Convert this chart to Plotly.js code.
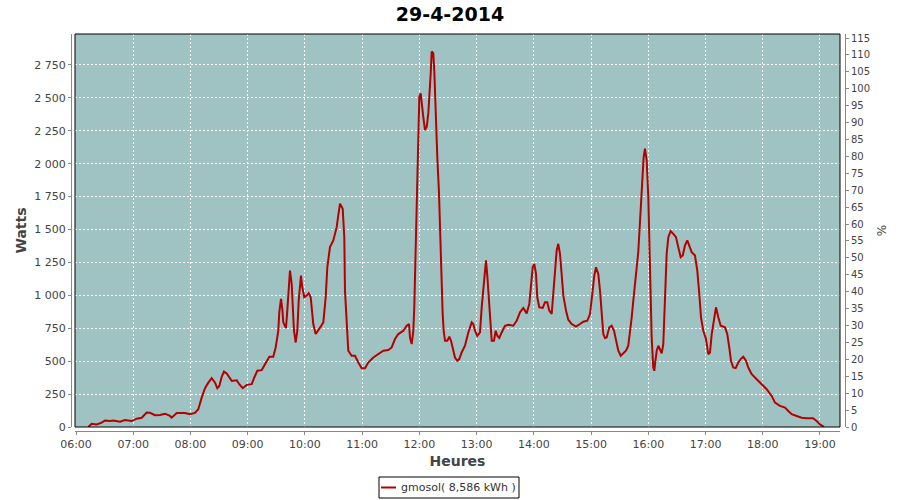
<!DOCTYPE html>
<html>
<head>
<meta charset="utf-8">
<script src="https://cdn.plot.ly/plotly-3.0.1.min.js"></script>
<style>html,body{margin:0;padding:0;background:#fff;}#chart{width:900px;height:500px;}</style>
</head>
<body>
<div id="chart"></div>
<script>
// Hours of the day (decimal) and power in Watts
const hours = [6.215,6.274,6.362,6.449,6.507,6.594,6.652,6.769,6.856,6.973,7.061,7.148,7.235,7.293,7.380,7.468,7.555,7.642,7.672,7.760,7.905,7.992,8.079,8.137,8.196,8.254,8.312,8.371,8.429,8.469,8.504,8.546,8.586,8.633,8.721,8.808,8.853,8.913,8.983,9.070,9.115,9.168,9.245,9.302,9.378,9.447,9.489,9.535,9.552,9.582,9.605,9.622,9.669,9.692,9.722,9.739,9.769,9.786,9.809,9.839,9.867,9.891,9.914,9.931,9.954,9.989,10.031,10.066,10.101,10.146,10.188,10.234,10.276,10.321,10.363,10.391,10.438,10.496,10.555,10.583,10.613,10.660,10.688,10.700,10.730,10.758,10.817,10.875,10.933,10.992,11.050,11.107,11.195,11.282,11.370,11.457,11.516,11.574,11.632,11.719,11.778,11.819,11.836,11.866,11.894,11.911,11.929,11.953,11.971,11.981,11.999,12.023,12.040,12.068,12.098,12.128,12.156,12.173,12.198,12.215,12.243,12.261,12.285,12.313,12.343,12.360,12.378,12.395,12.407,12.425,12.448,12.488,12.523,12.553,12.582,12.622,12.662,12.697,12.739,12.797,12.855,12.914,12.942,12.972,13.012,13.059,13.089,13.117,13.146,13.164,13.187,13.211,13.234,13.264,13.304,13.333,13.361,13.396,13.438,13.496,13.554,13.641,13.700,13.758,13.816,13.875,13.921,13.950,13.980,14.008,14.038,14.060,14.095,14.155,14.195,14.235,14.270,14.312,14.340,14.370,14.399,14.427,14.457,14.486,14.515,14.562,14.602,14.661,14.736,14.806,14.864,14.934,14.981,15.021,15.056,15.086,15.126,15.156,15.185,15.214,15.243,15.273,15.318,15.360,15.401,15.436,15.476,15.518,15.563,15.610,15.650,15.680,15.710,15.738,15.767,15.797,15.825,15.855,15.877,15.895,15.919,15.942,15.972,16.000,16.030,16.059,16.087,16.105,16.117,16.147,16.175,16.205,16.234,16.262,16.292,16.321,16.350,16.391,16.437,16.484,16.524,16.566,16.601,16.641,16.681,16.716,16.758,16.816,16.856,16.891,16.921,16.961,17.008,17.048,17.078,17.108,17.148,17.183,17.223,17.265,17.340,17.380,17.415,17.445,17.485,17.527,17.573,17.614,17.660,17.707,17.747,17.807,17.894,17.981,18.069,18.156,18.214,18.301,18.389,18.446,18.506,18.593,18.680,18.768,18.878,18.942,19.000,19.070];
const watts = [0,25,20,33,50,45,50,40,53,45,63,70,110,108,90,91,101,84,71,107,107,97,107,135,223,295,337,371,337,295,312,381,421,406,350,355,325,295,320,325,376,427,432,478,533,533,604,731,871,973,897,795,752,884,1087,1188,1087,935,731,642,731,960,1112,1150,1061,985,998,1015,985,782,706,731,762,795,985,1213,1366,1417,1518,1607,1696,1658,1442,1036,731,579,541,541,490,447,447,490,528,553,579,584,604,668,706,731,769,782,680,630,731,909,1213,1569,1925,2150,2509,2534,2445,2356,2255,2280,2382,2483,2687,2852,2839,2699,2306,2052,1773,1493,1265,1049,858,731,655,655,686,655,592,528,503,516,566,617,718,795,782,731,693,718,909,1061,1213,1265,1150,985,807,655,655,731,693,676,718,769,777,769,807,871,904,863,935,1087,1213,1239,1163,985,909,904,947,947,884,858,998,1150,1341,1391,1315,1160,1000,884,815,782,762,782,800,807,858,1010,1150,1213,1163,1036,833,706,676,680,757,769,731,655,579,541,558,579,617,706,833,960,1087,1213,1330,1560,1750,1848,2052,2115,2026,1747,1213,680,452,427,477,579,617,579,560,630,985,1315,1442,1488,1467,1442,1366,1289,1302,1379,1417,1379,1328,1302,1188,1010,833,731,668,553,566,706,833,909,833,769,757,706,604,503,452,447,490,516,533,503,452,401,363,325,287,236,185,160,147,122,97,84,71,66,66,46,20,2];
const seriesName = 'gmosol( 8,586 kWh )';
const chartTitle = '29-4-2014';
const day = '2014-04-29';
const xRangeHours = [5.9825, 19.3496];
const wattsMax = 2985;
const pctMax = 116.2;

function toTime(h) {
  const s = Math.round(h * 3600);
  const pad = n => String(n).padStart(2, '0');
  return day + ' ' + pad(Math.floor(s / 3600)) + ':' + pad(Math.floor((s % 3600) / 60)) + ':' + pad(s % 60);
}

const lineColor = '#b40000';
const tickFont = {family: 'DejaVu Sans', size: 11, color: '#444'};
const titleFont = {family: 'DejaVu Sans', size: 14, color: '#444', weight: 'bold'};
const W = 900, H = 500, ml = 71, mr = 55, mt = 34, mb = 69;
const pw = W - ml - mr, ph = H - mt - mb;
const px = v => (v - ml) / pw;          // pixel -> paper x
const py = v => (H - mb - v) / ph;      // pixel -> paper y
const xd = [px(75), px(840)];
const yd = [py(427), 1];

const trace = {
  x: hours.map(toTime),
  y: watts,
  type: 'scatter',
  mode: 'lines',
  name: seriesName,
  line: {color: lineColor, width: 2},
  xaxis: 'x', yaxis: 'y', showlegend: false
};
// empty trace so that the right-hand percent axis is drawn
const pctAxisTrace = {x: [], y: [], type: 'scatter', mode: 'lines', xaxis: 'x', yaxis: 'y2', showlegend: false, hoverinfo: 'skip'};

const layout = {
  width: W, height: H,
  margin: {l: ml, r: mr, t: mt, b: mb, pad: 0, autoexpand: false},
  paper_bgcolor: '#ffffff',
  plot_bgcolor: '#9fc3c2',
  separators: ', ',
  title: {text: chartTitle, font: {family: 'DejaVu Sans', size: 19, color: '#000', weight: 'bold'}, x: 0.5, xanchor: 'center', y: 0.972, yanchor: 'middle'},
  showlegend: false,
  xaxis: {
    type: 'date', domain: xd, anchor: 'free', position: 0,
    range: [toTime(xRangeHours[0]), toTime(xRangeHours[1])],
    tickmode: 'linear', tick0: day + ' 06:00', dtick: 3600000, tickformat: '%H:%M',
    showgrid: true, gridcolor: '#ffffff', griddash: '2px,2px', gridwidth: 1,
    showline: true, linecolor: '#888', linewidth: 1,
    ticks: 'outside', ticklen: 3, tickcolor: '#888',
    tickfont: tickFont, zeroline: false,
    title: {text: 'Heures', font: titleFont, standoff: 5}
  },
  yaxis: {
    domain: yd, anchor: 'free', position: 0,
    range: [0, wattsMax], tickmode: 'linear', tick0: 0, dtick: 250,
    separatethousands: true,
    showgrid: true, gridcolor: '#ffffff', griddash: '2px,2px', gridwidth: 1,
    showline: true, linecolor: '#888', linewidth: 1,
    ticks: 'outside', ticklen: 3, tickcolor: '#888',
    tickfont: tickFont, zeroline: false,
    title: {text: 'Watts', font: titleFont, standoff: 3}
  },
  yaxis2: {
    overlaying: 'y', side: 'right', anchor: 'free', position: 1,
    range: [0, pctMax], tickmode: 'linear', tick0: 0, dtick: 5,
    showgrid: false, zeroline: false,
    showline: true, linecolor: '#888', linewidth: 1,
    ticks: 'outside', ticklen: 3, tickcolor: '#888',
    tickfont: {family: 'DejaVu Sans', size: 10, color: '#444'},
    title: {text: '%', font: {family: 'DejaVu Sans', size: 12, color: '#444'}, standoff: 8}
  },
  shapes: [
    {type: 'rect', xref: 'paper', yref: 'paper', x0: xd[0], x1: xd[1], y0: yd[0], y1: yd[1],
      line: {color: '#000', width: 1}, fillcolor: 'rgba(0,0,0,0)', layer: 'above'},
    // legend box and line sample
    {type: 'rect', xref: 'paper', yref: 'paper', x0: px(379), x1: px(519), y0: py(498), y1: py(477),
      line: {color: '#000', width: 1}, fillcolor: '#fff'},
    {type: 'line', xref: 'paper', yref: 'paper', x0: px(381), x1: px(396), y0: py(487.5), y1: py(487.5),
      line: {color: lineColor, width: 2}}
  ],
  annotations: [
    {xref: 'paper', yref: 'paper', x: px(399), y: py(487.5), xanchor: 'left', yanchor: 'middle', showarrow: false,
      text: seriesName, font: {family: 'DejaVu Sans', size: 11, color: '#333'}}
  ]
};

Plotly.newPlot('chart', [trace, pctAxisTrace], layout, {staticPlot: true, displayModeBar: false});
</script>
</body>
</html>
